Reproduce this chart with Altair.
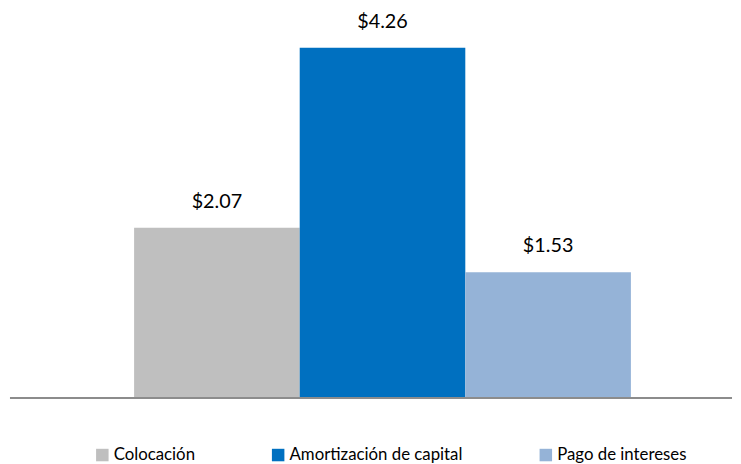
import altair as alt
import pandas as pd

series = ["Colocación", "Amortización de capital", "Pago de intereses"]
values = [2.07, 4.26, 1.53]
labels = ["$2.07", "$4.26", "$1.53"]
colors = ["#BFBFBF", "#0070C0", "#95B3D7"]

df = pd.DataFrame({"serie": series, "valor": values, "etiqueta": labels})
base_df = pd.DataFrame({"v": [0.0]})

FONT = "Lato"

x = alt.X("serie:N", sort=series, axis=None,
          scale=alt.Scale(domain=series, paddingInner=0, paddingOuter=0.686, align=0.555))
yscale = alt.Scale(domain=[0, 4.71], nice=False, zero=True)
y = alt.Y("valor:Q", axis=None, scale=yscale)

bars = alt.Chart(df).mark_bar().encode(
    x=x, y=y,
    color=alt.Color("serie:N", sort=series,
                    scale=alt.Scale(domain=series, range=colors),
                    legend=alt.Legend(title=None, orient="none", direction="horizontal",
                                      legendX=87, legendY=441, columnPadding=75,
                                      symbolType="square", symbolSize=160,
                                      symbolStrokeWidth=0, labelFont=FONT,
                                      labelFontSize=17, labelColor="#000000",
                                      labelOffset=3, labelLimit=400)),
)

text = alt.Chart(df).mark_text(baseline="alphabetic", dy=-20, font=FONT,
                               fontSize=20, color="#000000").encode(
    x=x, y=y, text="etiqueta:N"
)

base = alt.Chart(base_df).mark_rule(color="#8C8C8C", strokeWidth=2).encode(
    y=alt.Y("v:Q", axis=None, scale=yscale),
    x=alt.value(2), x2=alt.value(733)
)

chart = alt.layer(bars, base, text).properties(
    width=733, height=392, padding=0, background="#FFFFFF"
).configure_view(stroke=None)

chart.save("out.html", embed_options={"renderer": "svg", "actions": False})
